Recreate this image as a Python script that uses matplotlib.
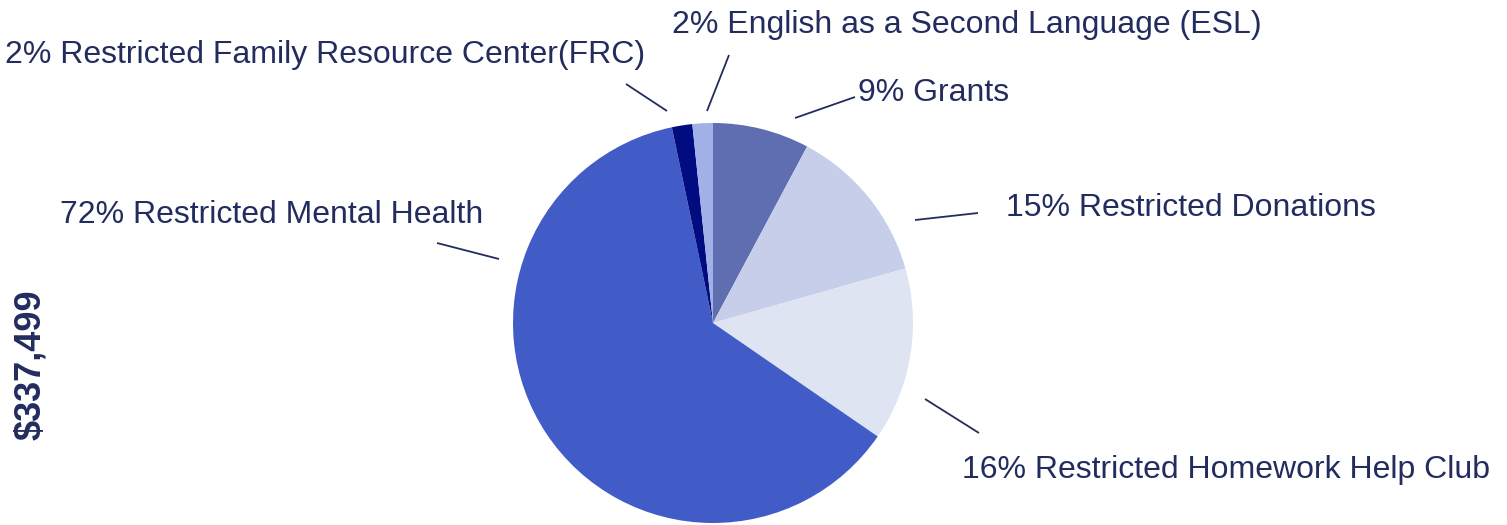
import matplotlib
matplotlib.use("Agg")
import matplotlib.pyplot as plt

# ---- data ----
categories = ["Grants", "Restricted Donations", "Restricted Homework Help Club",
              "Restricted Mental Health", "Restricted Family Resource Center(FRC)",
              "English as a Second Language (ESL)"]
shares = [7.8, 12.8, 14.0, 62.1, 1.65, 1.65]          # slice sizes
label_pct = ["9%", "15%", "16%", "72%", "2%", "2%"]    # percentages as printed on labels
total_label = "$337,499"

colors = ["#5f6eb0", "#c6cee9", "#dfe4f2", "#425cc7", "#000c80", "#a1b0e6"]
text_color = "#232c5f"

# label layout (pixel space of the 1507x525 canvas, y measured from top)
label_pos = [(858, 101, "left"), (1006, 216, "left"), (962, 478, "left"),
             (483, 223, "right"), (645, 63, "right"), (672, 33, "left")]
line_pos = [((795, 118), (855, 97)), ((915, 220), (978, 213)), ((925, 399), (979, 433)),
            ((499, 259), (437, 243)), ((667, 111), (626, 84)), ((707, 111), (729, 55))]

W, H = 1507, 525
fig = plt.figure(figsize=(W / 100, H / 100), dpi=100)
ax = fig.add_axes([0, 0, 1, 1])
ax.set_xlim(0, W)
ax.set_ylim(0, H)
ax.set_aspect("equal")
ax.axis("off")

ax.pie(shares, colors=colors, startangle=90, counterclock=False,
       center=(713, H - 323), radius=200, wedgeprops=dict(linewidth=0),
       frame=True)
ax.set_xlim(0, W)
ax.set_ylim(0, H)
ax.axis("off")

font = "Liberation Sans"
for cat, pct, (x, y, ha), (p0, p1) in zip(categories, label_pct, label_pos, line_pos):
    ax.text(x, H - y, f"{pct} {cat}", ha=ha, va="baseline", fontsize=23,
            color=text_color, family=font)
    ax.plot([p0[0], p1[0]], [H - p0[1], H - p1[1]], color=text_color, lw=1.3,
            solid_capstyle="butt")

ax.text(31, H - 365, total_label, rotation=90, ha="center", va="center",
        fontsize=26, fontweight="bold", color=text_color, family=font)

fig.savefig("out.png", dpi=100)
